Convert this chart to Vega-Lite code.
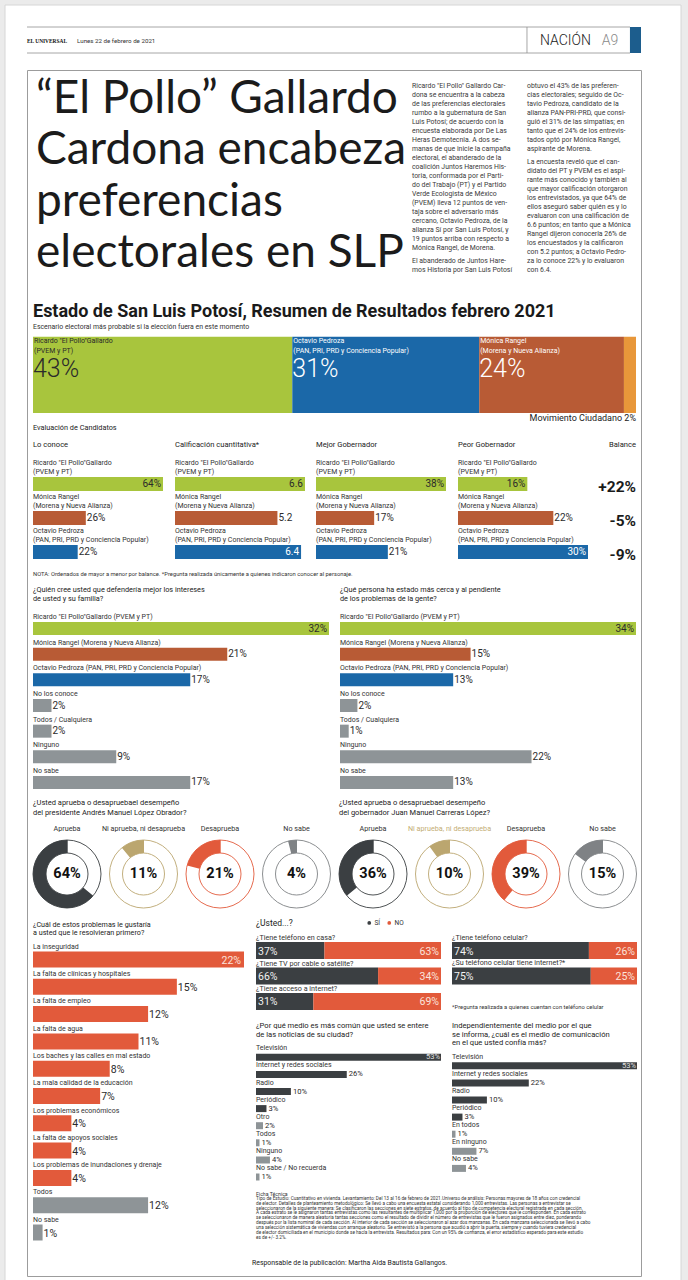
{
"$schema":"https://vega.github.io/schema/vega-lite/v6.json",
"width":688,"height":1280,"autosize":{"type":"none"},"padding":0,"background":"#ebebeb",
"config":{"view":{"stroke":null},"font":"Roboto","text":{"color":"#333333"}},
"resolve":{"scale":{"x":"independent","y":"independent","color":"independent","stroke":"independent","theta":"independent"},"legend":{"color":"independent","stroke":"independent"}},
"datasets":{
"hoja":[{"hoja":"pagina"}],
"lineas_cabecera":[{"linea":"superior"},{"linea":"inferior"}],
"cabecera":[{"elemento":"periodico","texto":"EL UNIVERSAL"},{"elemento":"fecha","texto":"Lunes 22 de febrero de 2021"},{"elemento":"seccion","texto":"NACIÓN"},{"elemento":"pagina","texto":"A9"}],
"marco":[{"marco":"recuadro"}],
"titular":[{"renglon":1,"texto":"“El Pollo” Gallardo"},{"renglon":2,"texto":"Cardona encabeza"},{"renglon":3,"texto":"preferencias"},{"renglon":4,"texto":"electorales en SLP"}],
"nota":[
{"columna":1,"renglon":1,"texto":"Ricardo \"El Pollo\" Gallardo Car-"},
{"columna":1,"renglon":2,"texto":"dona se encuentra a la cabeza"},
{"columna":1,"renglon":3,"texto":"de las preferencias electorales"},
{"columna":1,"renglon":4,"texto":"rumbo a la gubernatura de San"},
{"columna":1,"renglon":5,"texto":"Luis Potosí; de acuerdo con la"},
{"columna":1,"renglon":6,"texto":"encuesta elaborada por De Las"},
{"columna":1,"renglon":7,"texto":"Heras Demotecnia. A dos se-"},
{"columna":1,"renglon":8,"texto":"manas de que inicie la campaña"},
{"columna":1,"renglon":9,"texto":"electoral, el abanderado de la"},
{"columna":1,"renglon":10,"texto":"coalición Juntos Haremos His-"},
{"columna":1,"renglon":11,"texto":"toria, conformada por el Parti-"},
{"columna":1,"renglon":12,"texto":"do del Trabajo (PT) y el Partido"},
{"columna":1,"renglon":13,"texto":"Verde Ecologista de México"},
{"columna":1,"renglon":14,"texto":"(PVEM) lleva 12 puntos de ven-"},
{"columna":1,"renglon":15,"texto":"taja sobre el adversario más"},
{"columna":1,"renglon":16,"texto":"cercano, Octavio Pedroza, de la"},
{"columna":1,"renglon":17,"texto":"alianza Sí por San Luis Potosí, y"},
{"columna":1,"renglon":18,"texto":"19 puntos arriba con respecto a"},
{"columna":1,"renglon":19,"texto":"Mónica Rangel, de Morena."},
{"columna":1,"renglon":20.5,"texto":"   El abanderado de Juntos Hare-"},
{"columna":1,"renglon":21.5,"texto":"mos Historia por San Luis Potosí"},
{"columna":2,"renglon":1,"texto":"obtuvo el 43% de las preferen-"},
{"columna":2,"renglon":2,"texto":"cias electorales; seguido de Oc-"},
{"columna":2,"renglon":3,"texto":"tavio Pedroza, candidato de la"},
{"columna":2,"renglon":4,"texto":"alianza PAN-PRI-PRD, que consi-"},
{"columna":2,"renglon":5,"texto":"guió el 31% de las simpatías; en"},
{"columna":2,"renglon":6,"texto":"tanto que el 24% de los entrevis-"},
{"columna":2,"renglon":7,"texto":"tados optó por Mónica Rangel,"},
{"columna":2,"renglon":8,"texto":"aspirante de Morena."},
{"columna":2,"renglon":9.5,"texto":"   La encuesta reveló que el can-"},
{"columna":2,"renglon":10.5,"texto":"didato del PT y PVEM es el aspi-"},
{"columna":2,"renglon":11.5,"texto":"rante más conocido y también al"},
{"columna":2,"renglon":12.5,"texto":"que mayor calificación otorgaron"},
{"columna":2,"renglon":13.5,"texto":"los entrevistados, ya que 64% de"},
{"columna":2,"renglon":14.5,"texto":"ellos aseguró saber quién es y lo"},
{"columna":2,"renglon":15.5,"texto":"evaluaron con una calificación de"},
{"columna":2,"renglon":16.5,"texto":"6.6 puntos; en tanto que a Mónica"},
{"columna":2,"renglon":17.5,"texto":"Rangel dijeron conocerla 26% de"},
{"columna":2,"renglon":18.5,"texto":"los encuestados y la calificaron"},
{"columna":2,"renglon":19.5,"texto":"con 5.2 puntos; a Octavio Pedro-"},
{"columna":2,"renglon":20.5,"texto":"za lo conoce 22% y lo evaluaron"},
{"columna":2,"renglon":21.5,"texto":"con 6.4."}
],
"titulos":[{"nivel":"titulo","texto":"Estado de San Luis Potosí, Resumen de Resultados febrero 2021"},{"nivel":"subtitulo","texto":"Escenario electoral más probable si la elección fuera en este momento"}],
"preferencia":[
{"orden":1,"candidato":"Ricardo \"El Pollo\"Gallardo","alianza":"(PVEM y PT)","pct":43},
{"orden":2,"candidato":"Octavio Pedroza","alianza":"(PAN, PRI, PRD y Conciencia Popular)","pct":31},
{"orden":3,"candidato":"Mónica Rangel","alianza":"(Morena y Nueva Alianza)","pct":24},
{"orden":4,"candidato":"Movimiento Ciudadano","alianza":"","pct":2}],
"evaluacion":[
{"indicador":"Lo conoce","clave":"ricardo","candidato":"Ricardo \"El Pollo\"Gallardo","alianza":"(PVEM y PT)","valor":64},
{"indicador":"Lo conoce","clave":"monica","candidato":"Mónica Rangel","alianza":"(Morena y Nueva Alianza)","valor":26},
{"indicador":"Lo conoce","clave":"octavio","candidato":"Octavio Pedroza","alianza":"(PAN, PRI, PRD y Conciencia Popular)","valor":22},
{"indicador":"Calificación cuantitativa*","clave":"ricardo","candidato":"Ricardo \"El Pollo\"Gallardo","alianza":"(PVEM y PT)","valor":6.6},
{"indicador":"Calificación cuantitativa*","clave":"monica","candidato":"Mónica Rangel","alianza":"(Morena y Nueva Alianza)","valor":5.2},
{"indicador":"Calificación cuantitativa*","clave":"octavio","candidato":"Octavio Pedroza","alianza":"(PAN, PRI, PRD y Conciencia Popular)","valor":6.4},
{"indicador":"Mejor Gobernador","clave":"ricardo","candidato":"Ricardo \"El Pollo\"Gallardo","alianza":"(PVEM y PT)","valor":38},
{"indicador":"Mejor Gobernador","clave":"monica","candidato":"Mónica Rangel","alianza":"(Morena y Nueva Alianza)","valor":17},
{"indicador":"Mejor Gobernador","clave":"octavio","candidato":"Octavio Pedroza","alianza":"(PAN, PRI, PRD y Conciencia Popular)","valor":21},
{"indicador":"Peor Gobernador","clave":"ricardo","candidato":"Ricardo \"El Pollo\"Gallardo","alianza":"(PVEM y PT)","valor":16},
{"indicador":"Peor Gobernador","clave":"monica","candidato":"Mónica Rangel","alianza":"(Morena y Nueva Alianza)","valor":22},
{"indicador":"Peor Gobernador","clave":"octavio","candidato":"Octavio Pedroza","alianza":"(PAN, PRI, PRD y Conciencia Popular)","valor":30},
{"indicador":"Balance","clave":"ricardo","candidato":"Ricardo \"El Pollo\"Gallardo","alianza":"(PVEM y PT)","valor":22},
{"indicador":"Balance","clave":"monica","candidato":"Mónica Rangel","alianza":"(Morena y Nueva Alianza)","valor":-5},
{"indicador":"Balance","clave":"octavio","candidato":"Octavio Pedroza","alianza":"(PAN, PRI, PRD y Conciencia Popular)","valor":-9}],
"defensa":[
{"pregunta":"intereses","clave":"ricardo","opcion":"Ricardo \"El Pollo\"Gallardo (PVEM y PT)","valor":32},
{"pregunta":"intereses","clave":"monica","opcion":"Mónica Rangel (Morena y Nueva Alianza)","valor":21},
{"pregunta":"intereses","clave":"octavio","opcion":"Octavio Pedroza (PAN, PRI, PRD y Conciencia Popular)","valor":17},
{"pregunta":"intereses","clave":"no_conoce","opcion":"No los conoce","valor":2},
{"pregunta":"intereses","clave":"todos","opcion":"Todos / Cualquiera","valor":2},
{"pregunta":"intereses","clave":"ninguno","opcion":"Ninguno","valor":9},
{"pregunta":"intereses","clave":"no_sabe","opcion":"No sabe","valor":17},
{"pregunta":"cercania","clave":"ricardo","opcion":"Ricardo \"El Pollo\"Gallardo (PVEM y PT)","valor":34},
{"pregunta":"cercania","clave":"monica","opcion":"Mónica Rangel (Morena y Nueva Alianza)","valor":15},
{"pregunta":"cercania","clave":"octavio","opcion":"Octavio Pedroza (PAN, PRI, PRD y Conciencia Popular)","valor":13},
{"pregunta":"cercania","clave":"no_conoce","opcion":"No los conoce","valor":2},
{"pregunta":"cercania","clave":"todos","opcion":"Todos / Cualquiera","valor":1},
{"pregunta":"cercania","clave":"ninguno","opcion":"Ninguno","valor":22},
{"pregunta":"cercania","clave":"no_sabe","opcion":"No sabe","valor":13}],
"aprobacion":[
{"funcionario":"presidente","respuesta":"Aprueba","valor":64},
{"funcionario":"presidente","respuesta":"Ni aprueba, ni desaprueba","valor":11},
{"funcionario":"presidente","respuesta":"Desaprueba","valor":21},
{"funcionario":"presidente","respuesta":"No sabe","valor":4},
{"funcionario":"gobernador","respuesta":"Aprueba","valor":36},
{"funcionario":"gobernador","respuesta":"Ni aprueba, ni desaprueba","valor":10},
{"funcionario":"gobernador","respuesta":"Desaprueba","valor":39},
{"funcionario":"gobernador","respuesta":"No sabe","valor":15}],
"problemas":[
{"problema":"La inseguridad","valor":22},
{"problema":"La falta de clínicas y hospitales","valor":15},
{"problema":"La falta de empleo","valor":12},
{"problema":"La falta de agua","valor":11},
{"problema":"Los baches y las calles en mal estado","valor":8},
{"problema":"La mala calidad de la educación","valor":7},
{"problema":"Los problemas económicos","valor":4},
{"problema":"La falta de apoyos sociales","valor":4},
{"problema":"Los problemas de inundaciones y drenaje","valor":4},
{"problema":"Todos","valor":12},
{"problema":"No sabe","valor":1}],
"servicios":[
{"columna":"izquierda","pregunta":"¿Tiene teléfono en casa?","respuesta":"Sí","valor":37},
{"columna":"izquierda","pregunta":"¿Tiene teléfono en casa?","respuesta":"No","valor":63},
{"columna":"izquierda","pregunta":"¿Tiene TV por cable o satélite?","respuesta":"Sí","valor":66},
{"columna":"izquierda","pregunta":"¿Tiene TV por cable o satélite?","respuesta":"No","valor":34},
{"columna":"izquierda","pregunta":"¿Tiene acceso a internet?","respuesta":"Sí","valor":31},
{"columna":"izquierda","pregunta":"¿Tiene acceso a internet?","respuesta":"No","valor":69},
{"columna":"derecha","pregunta":"¿Tiene teléfono celular?","respuesta":"Sí","valor":74},
{"columna":"derecha","pregunta":"¿Tiene teléfono celular?","respuesta":"No","valor":26},
{"columna":"derecha","pregunta":"¿Su teléfono celular tiene internet?*","respuesta":"Sí","valor":75},
{"columna":"derecha","pregunta":"¿Su teléfono celular tiene internet?*","respuesta":"No","valor":25}],
"medios":[
{"pregunta":"enterarse","medio":"Televisión","valor":53},
{"pregunta":"enterarse","medio":"Internet y redes sociales","valor":26},
{"pregunta":"enterarse","medio":"Radio","valor":10},
{"pregunta":"enterarse","medio":"Periódico","valor":3},
{"pregunta":"enterarse","medio":"Otro","valor":2},
{"pregunta":"enterarse","medio":"Todos","valor":1},
{"pregunta":"enterarse","medio":"Ninguno","valor":4},
{"pregunta":"enterarse","medio":"No sabe / No recuerda","valor":1},
{"pregunta":"confianza","medio":"Televisión","valor":53},
{"pregunta":"confianza","medio":"Internet y redes sociales","valor":22},
{"pregunta":"confianza","medio":"Radio","valor":10},
{"pregunta":"confianza","medio":"Periódico","valor":3},
{"pregunta":"confianza","medio":"En todos","valor":1},
{"pregunta":"confianza","medio":"En ninguno","valor":7},
{"pregunta":"confianza","medio":"No sabe","valor":4}],
"ficha":[
{"tipo":"titulo","renglon":0,"texto":"Ficha Técnica"},
{"tipo":"texto","renglon":1,"texto":"Tipo de Estudio: Cuantitativo en vivienda. Levantamiento: Del 13 al 16 de febrero de 2021.Universo de análisis: Personas mayores de 18 años con credencial"},
{"tipo":"texto","renglon":2,"texto":"de elector. Detalles de planteamiento metodológico: Se llevó a cabo una encuesta estatal considerando 1,000 entrevistas. Las personas a entrevistar se"},
{"tipo":"texto","renglon":3,"texto":"seleccionaron de la siguiente manera: Se clasificaron las secciones en siete estratos, de acuerdo al tipo de competencia electoral registrada en cada sección."},
{"tipo":"texto","renglon":4,"texto":"A cada estrato se le asignaron tantas entrevistas como las resultantes de multiplicar 1,000 por la proporción de electores que le corresponden. En cada estrato"},
{"tipo":"texto","renglon":5,"texto":"se seleccionaron de manera aleatoria tantas secciones como el resultado de dividir el número de entrevistas que le fueron asignados entre diez, ponderando"},
{"tipo":"texto","renglon":6,"texto":"después por la lista nominal de cada sección. Al interior de cada sección se seleccionaron al azar dos manzanas. En cada manzana seleccionada se llevó a cabo"},
{"tipo":"texto","renglon":7,"texto":"una selección sistemática de viviendas con arranque aleatorio. Se entrevistó a la persona que acudió a abrir la puerta, siempre y cuando tuviera credencial"},
{"tipo":"texto","renglon":8,"texto":"de elector domiciliada en el municipio donde se hacía la entrevista. Resultados para: Con un 95% de confianza, el error estadístico esperado para este estudio"},
{"tipo":"texto","renglon":9,"texto":"es de +/- 3.2%."},
{"tipo":"responsable","renglon":14.3,"texto":"Responsable de la publicación: Martha Aida Bautista Gallangos."}]
},
"layer":[
{"data":{"name":"hoja"},"mark":{"type":"rect","fill":"#ffffff","stroke":"#d6d6d6","strokeWidth":1},
 "encoding":{"x":{"datum":0,"type":"quantitative","scale":{"domain":[0,1],"range":[5,681],"nice":false,"zero":false},"axis":null},"x2":{"datum":1},
 "y":{"datum":0,"type":"quantitative","scale":{"domain":[0,1],"range":[5,1290],"nice":false,"zero":false},"axis":null},"y2":{"datum":1}}},
{"data":{"name":"lineas_cabecera"},"mark":{"type":"rule","color":"#8f8f8f","strokeWidth":0.8},
 "encoding":{"y":{"field":"linea","type":"nominal","scale":{"type":"point","domain":["superior","inferior"],"range":[27,53],"padding":0},"axis":null},
 "x":{"datum":0,"type":"quantitative","scale":{"domain":[0,1],"range":[27,630],"nice":false,"zero":false},"axis":null},"x2":{"datum":1}}},
{"data":{"name":"cabecera"},
 "encoding":{"y":{"datum":0.53,"type":"quantitative","scale":{"domain":[0,1],"range":[27,53],"nice":false,"zero":false},"axis":null}},
 "layer":[
 {"transform":[{"filter":"datum.elemento == 'seccion'"}],"mark":{"type":"rule","color":"#8f8f8f","strokeWidth":0.8},
  "encoding":{"x":{"datum":0.8143,"type":"quantitative","scale":{"domain":[0,1],"range":[27,641],"nice":false,"zero":false},"axis":null},"y":{"datum":0},"y2":{"datum":1}}},
 {"transform":[{"filter":"datum.elemento == 'pagina'"}],"mark":{"type":"rect","color":"#1c5d8d"},
  "encoding":{"x":{"datum":0.982,"type":"quantitative"},"x2":{"datum":1},"y":{"datum":0},"y2":{"datum":1}}},
 {"transform":[{"filter":"datum.elemento == 'periodico'"}],"mark":{"type":"text","align":"left","baseline":"middle","font":"Liberation Serif","fontWeight":"bold","fontSize":5.4,"color":"#111111"},
  "encoding":{"x":{"datum":0,"type":"quantitative"},"text":{"field":"texto"}}},
 {"transform":[{"filter":"datum.elemento == 'fecha'"}],"mark":{"type":"text","align":"left","baseline":"middle","fontSize":6.2,"color":"#333333"},
  "encoding":{"x":{"datum":0.0815,"type":"quantitative"},"text":{"field":"texto"}}},
 {"transform":[{"filter":"datum.elemento == 'seccion'"}],"mark":{"type":"text","align":"left","baseline":"middle","fontSize":14,"fontWeight":300,"color":"#1a1a1a"},
  "encoding":{"x":{"datum":0.8355,"type":"quantitative"},"text":{"field":"texto"}}},
 {"transform":[{"filter":"datum.elemento == 'pagina'"}],"mark":{"type":"text","align":"left","baseline":"middle","fontSize":14,"fontWeight":300,"color":"#8a8a8a"},
  "encoding":{"x":{"datum":0.936,"type":"quantitative"},"text":{"field":"texto"}}}
 ]},
{"data":{"name":"marco"},"mark":{"type":"rect","fill":"transparent","stroke":"#9c9c9c","strokeWidth":1},
 "encoding":{"x":{"datum":0,"type":"quantitative","scale":{"domain":[0,1],"range":[27.5,641.5],"nice":false,"zero":false},"axis":null},"x2":{"datum":1},
 "y":{"datum":0,"type":"quantitative","scale":{"domain":[0,1],"range":[70.5,1276.5],"nice":false,"zero":false},"axis":null},"y2":{"datum":1}}},
{"data":{"name":"titular"},"mark":{"type":"text","align":"left","baseline":"alphabetic","font":"Lato","fontSize":46,"color":"#1b1b1b"},
 "encoding":{"x":{"datum":0,"type":"quantitative","scale":{"domain":[0,1],"range":[36,400],"nice":false,"zero":false},"axis":null},
 "y":{"field":"renglon","type":"quantitative","scale":{"domain":[1,4],"range":[113.3,266.7],"nice":false,"zero":false},"axis":null},
 "text":{"field":"texto"}}},
{"data":{"name":"nota"},"mark":{"type":"text","align":"left","baseline":"middle","fontSize":6.9,"color":"#3a3a3a"},
 "encoding":{"x":{"field":"columna","type":"ordinal","scale":{"type":"point","domain":[1,2],"range":[412,527],"padding":0},"axis":null},
 "y":{"field":"renglon","type":"quantitative","scale":{"domain":[1,21.5],"range":[86,270],"nice":false,"zero":false},"axis":null},
 "text":{"field":"texto"}}},
{"data":{"name":"titulos"},
 "encoding":{"y":{"field":"nivel","type":"nominal","scale":{"type":"point","domain":["titulo","subtitulo"],"range":[317,328.5],"padding":0},"axis":null},
 "x":{"datum":0,"type":"quantitative","scale":{"domain":[0,1],"range":[33,636],"nice":false,"zero":false},"axis":null},"text":{"field":"texto"}},
 "layer":[
 {"transform":[{"filter":"datum.nivel == 'titulo'"}],"mark":{"type":"text","align":"left","baseline":"alphabetic","fontSize":18,"fontWeight":"bold","color":"#1a1a1a"}},
 {"transform":[{"filter":"datum.nivel == 'subtitulo'"}],"mark":{"type":"text","align":"left","baseline":"alphabetic","fontSize":6.9,"color":"#333333"}}
 ]},
{"data":{"name":"preferencia"},
 "transform":[{"stack":"pct","groupby":[],"sort":[{"field":"orden","order":"ascending"}],"as":["p0","p1"]},{"calculate":"datum.pct + '%'","as":"etiqueta"},{"calculate":"datum.candidato + ' ' + datum.pct + '%'","as":"etiqueta_mc"}],
 "layer":[
 {"mark":{"type":"rect"},"encoding":{"x":{"field":"p0","type":"quantitative","scale":{"domain":[0,100],"range":[33,636],"nice":false,"zero":false},"axis":null},"x2":{"field":"p1"},
  "y":{"datum":0,"type":"quantitative","scale":{"domain":[0,1],"range":[336.7,413],"nice":false,"zero":false},"axis":null},"y2":{"datum":1},
  "color":{"field":"orden","type":"nominal","scale":{"domain":[1,2,3,4],"range":["#a8c53d","#1b68a8","#b85b35","#e8973a"]},"legend":null}}},
 {"transform":[{"filter":"datum.orden < 4"}],"mark":{"type":"text","align":"left","baseline":"middle","dx":1,"fontSize":7},
  "encoding":{"x":{"field":"p0","type":"quantitative"},"y":{"datum":0.062},"text":{"field":"candidato"},"color":{"condition":{"test":"datum.orden == 1","value":"#2b2b2b"},"value":"#ffffff"}}},
 {"transform":[{"filter":"datum.orden < 4"}],"mark":{"type":"text","align":"left","baseline":"middle","dx":1,"fontSize":7},
  "encoding":{"x":{"field":"p0","type":"quantitative"},"y":{"datum":0.19},"text":{"field":"alianza"},"color":{"condition":{"test":"datum.orden == 1","value":"#2b2b2b"},"value":"#ffffff"}}},
 {"transform":[{"filter":"datum.orden < 4"}],"mark":{"type":"text","align":"left","baseline":"alphabetic","dx":0,"fontSize":25,"fontWeight":300},
  "encoding":{"x":{"field":"p0","type":"quantitative"},"y":{"datum":0.53},"text":{"field":"etiqueta"},"color":{"condition":{"test":"datum.orden == 1","value":"#2b2b2b"},"value":"#ffffff"}}},
 {"transform":[{"filter":"datum.orden == 4"}],"mark":{"type":"text","align":"right","baseline":"middle","fontSize":9,"color":"#222222"},
  "encoding":{"x":{"field":"p1","type":"quantitative"},"y":{"datum":1.066},"text":{"field":"etiqueta_mc"}}}
 ]},
{"data":{"name":"evaluacion"},
 "transform":[{"filter":"datum.indicador == 'Lo conoce'"},{"calculate":"datum.valor + '%'","as":"etiqueta"}],
 "encoding":{"y":{"field":"clave","type":"nominal","scale":{"type":"band","domain":["ricardo","monica","octavio"],"range":[467,569],"paddingInner":0.59,"paddingOuter":0.295},"axis":null}},
 "layer":[
 {"mark":{"type":"bar"},"encoding":{"x":{"field":"valor","type":"quantitative","scale":{"domain":[0,64],"range":[33,163],"nice":false,"zero":true},"axis":null},
  "color":{"field":"clave","type":"nominal","scale":{"domain":["ricardo","monica","octavio"],"range":["#a8c53d","#b85b35","#1b68a8"]},"legend":null}}},
 {"mark":{"type":"text","align":"left","baseline":"middle","dy":-21,"fontSize":7,"color":"#333333"},"encoding":{"x":{"datum":0,"type":"quantitative"},"text":{"field":"candidato"}}},
 {"mark":{"type":"text","align":"left","baseline":"middle","dy":-12,"fontSize":7,"color":"#333333"},"encoding":{"x":{"datum":0,"type":"quantitative"},"text":{"field":"alianza"}}},
 {"transform":[{"filter":"datum.clave == 'ricardo'"}],"mark":{"type":"text","align":"right","baseline":"middle","dx":-2,"fontSize":10,"color":"#2b2b2b"},"encoding":{"x":{"field":"valor","type":"quantitative"},"text":{"field":"etiqueta"}}},
 {"transform":[{"filter":"datum.clave != 'ricardo'"}],"mark":{"type":"text","align":"left","baseline":"middle","dx":1,"fontSize":10,"color":"#2b2b2b"},"encoding":{"x":{"field":"valor","type":"quantitative"},"text":{"field":"etiqueta"}}},
 {"transform":[{"filter":"datum.clave == 'ricardo'"}],"mark":{"type":"text","align":"left","baseline":"middle","dy":-39,"fontSize":7.6,"color":"#222222"},"encoding":{"x":{"datum":0,"type":"quantitative"},"text":{"field":"indicador"}}},
 {"transform":[{"filter":"datum.clave == 'ricardo'"}],"mark":{"type":"text","align":"left","baseline":"middle","dy":-56,"fontSize":7.3,"color":"#222222"},"encoding":{"x":{"datum":0,"type":"quantitative"},"text":{"value":"Evaluación de Candidatos"}}},
 {"transform":[{"filter":"datum.clave == 'octavio'"}],"mark":{"type":"text","align":"left","baseline":"middle","dy":22,"fontSize":5.8,"color":"#333333"},"encoding":{"x":{"datum":0,"type":"quantitative"},"text":{"value":"NOTA: Ordenados de mayor a menor por balance. *Pregunta realizada únicamente a quienes indicaron conocer al personaje."}}}
 ]},
{"data":{"name":"evaluacion"},
 "transform":[{"filter":"datum.indicador == 'Calificación cuantitativa*'"},{"calculate":"format(datum.valor, '.1f')","as":"etiqueta"}],
 "encoding":{"y":{"field":"clave","type":"nominal","scale":{"type":"band","domain":["ricardo","monica","octavio"],"range":[467,569],"paddingInner":0.59,"paddingOuter":0.295},"axis":null}},
 "layer":[
 {"mark":{"type":"bar"},"encoding":{"x":{"field":"valor","type":"quantitative","scale":{"domain":[0,6.6],"range":[175,305],"nice":false,"zero":true},"axis":null},
  "color":{"field":"clave","type":"nominal","scale":{"domain":["ricardo","monica","octavio"],"range":["#a8c53d","#b85b35","#1b68a8"]},"legend":null}}},
 {"mark":{"type":"text","align":"left","baseline":"middle","dy":-21,"fontSize":7,"color":"#333333"},"encoding":{"x":{"datum":0,"type":"quantitative"},"text":{"field":"candidato"}}},
 {"mark":{"type":"text","align":"left","baseline":"middle","dy":-12,"fontSize":7,"color":"#333333"},"encoding":{"x":{"datum":0,"type":"quantitative"},"text":{"field":"alianza"}}},
 {"transform":[{"filter":"datum.clave == 'ricardo' || datum.clave == 'octavio'"}],"mark":{"type":"text","align":"right","baseline":"middle","dx":-2,"fontSize":10},"encoding":{"x":{"field":"valor","type":"quantitative"},"text":{"field":"etiqueta"},"color":{"condition":{"test":"datum.clave == 'octavio'","value":"#ffffff"},"value":"#2b2b2b"}}},
 {"transform":[{"filter":"datum.clave == 'monica'"}],"mark":{"type":"text","align":"left","baseline":"middle","dx":1,"fontSize":10,"color":"#2b2b2b"},"encoding":{"x":{"field":"valor","type":"quantitative"},"text":{"field":"etiqueta"}}},
 {"transform":[{"filter":"datum.clave == 'ricardo'"}],"mark":{"type":"text","align":"left","baseline":"middle","dy":-39,"fontSize":7.6,"color":"#222222"},"encoding":{"x":{"datum":0,"type":"quantitative"},"text":{"field":"indicador"}}}
 ]},
{"data":{"name":"evaluacion"},
 "transform":[{"filter":"datum.indicador == 'Mejor Gobernador'"},{"calculate":"datum.valor + '%'","as":"etiqueta"}],
 "encoding":{"y":{"field":"clave","type":"nominal","scale":{"type":"band","domain":["ricardo","monica","octavio"],"range":[467,569],"paddingInner":0.59,"paddingOuter":0.295},"axis":null}},
 "layer":[
 {"mark":{"type":"bar"},"encoding":{"x":{"field":"valor","type":"quantitative","scale":{"domain":[0,38],"range":[316,446],"nice":false,"zero":true},"axis":null},
  "color":{"field":"clave","type":"nominal","scale":{"domain":["ricardo","monica","octavio"],"range":["#a8c53d","#b85b35","#1b68a8"]},"legend":null}}},
 {"mark":{"type":"text","align":"left","baseline":"middle","dy":-21,"fontSize":7,"color":"#333333"},"encoding":{"x":{"datum":0,"type":"quantitative"},"text":{"field":"candidato"}}},
 {"mark":{"type":"text","align":"left","baseline":"middle","dy":-12,"fontSize":7,"color":"#333333"},"encoding":{"x":{"datum":0,"type":"quantitative"},"text":{"field":"alianza"}}},
 {"transform":[{"filter":"datum.clave == 'ricardo'"}],"mark":{"type":"text","align":"right","baseline":"middle","dx":-2,"fontSize":10,"color":"#2b2b2b"},"encoding":{"x":{"field":"valor","type":"quantitative"},"text":{"field":"etiqueta"}}},
 {"transform":[{"filter":"datum.clave != 'ricardo'"}],"mark":{"type":"text","align":"left","baseline":"middle","dx":1,"fontSize":10,"color":"#2b2b2b"},"encoding":{"x":{"field":"valor","type":"quantitative"},"text":{"field":"etiqueta"}}},
 {"transform":[{"filter":"datum.clave == 'ricardo'"}],"mark":{"type":"text","align":"left","baseline":"middle","dy":-39,"fontSize":7.6,"color":"#222222"},"encoding":{"x":{"datum":0,"type":"quantitative"},"text":{"field":"indicador"}}}
 ]},
{"data":{"name":"evaluacion"},
 "transform":[{"filter":"datum.indicador == 'Peor Gobernador'"},{"calculate":"datum.valor + '%'","as":"etiqueta"}],
 "encoding":{"y":{"field":"clave","type":"nominal","scale":{"type":"band","domain":["ricardo","monica","octavio"],"range":[467,569],"paddingInner":0.59,"paddingOuter":0.295},"axis":null}},
 "layer":[
 {"mark":{"type":"bar"},"encoding":{"x":{"field":"valor","type":"quantitative","scale":{"domain":[0,30],"range":[458,588],"nice":false,"zero":true},"axis":null},
  "color":{"field":"clave","type":"nominal","scale":{"domain":["ricardo","monica","octavio"],"range":["#a8c53d","#b85b35","#1b68a8"]},"legend":null}}},
 {"mark":{"type":"text","align":"left","baseline":"middle","dy":-21,"fontSize":7,"color":"#333333"},"encoding":{"x":{"datum":0,"type":"quantitative"},"text":{"field":"candidato"}}},
 {"mark":{"type":"text","align":"left","baseline":"middle","dy":-12,"fontSize":7,"color":"#333333"},"encoding":{"x":{"datum":0,"type":"quantitative"},"text":{"field":"alianza"}}},
 {"transform":[{"filter":"datum.clave == 'ricardo' || datum.clave == 'octavio'"}],"mark":{"type":"text","align":"right","baseline":"middle","dx":-2,"fontSize":10},"encoding":{"x":{"field":"valor","type":"quantitative"},"text":{"field":"etiqueta"},"color":{"condition":{"test":"datum.clave == 'octavio'","value":"#ffffff"},"value":"#2b2b2b"}}},
 {"transform":[{"filter":"datum.clave == 'monica'"}],"mark":{"type":"text","align":"left","baseline":"middle","dx":1,"fontSize":10,"color":"#2b2b2b"},"encoding":{"x":{"field":"valor","type":"quantitative"},"text":{"field":"etiqueta"}}},
 {"transform":[{"filter":"datum.clave == 'ricardo'"}],"mark":{"type":"text","align":"left","baseline":"middle","dy":-39,"fontSize":7.6,"color":"#222222"},"encoding":{"x":{"datum":0,"type":"quantitative"},"text":{"field":"indicador"}}}
 ]},
{"data":{"name":"evaluacion"},
 "transform":[{"filter":"datum.indicador == 'Balance'"},{"calculate":"(datum.valor > 0 ? '+' : '') + datum.valor + '%'","as":"etiqueta"}],
 "encoding":{"y":{"field":"clave","type":"nominal","scale":{"type":"band","domain":["ricardo","monica","octavio"],"range":[467,569],"paddingInner":0.59,"paddingOuter":0.295},"axis":null},
  "x":{"datum":1,"type":"quantitative","scale":{"domain":[0,1],"range":[589,636],"nice":false,"zero":false},"axis":null}},
 "layer":[
 {"mark":{"type":"text","align":"right","baseline":"middle","dy":3,"fontSize":15.5,"fontWeight":"bold","color":"#1a1a1a"},"encoding":{"text":{"field":"etiqueta"}}},
 {"transform":[{"filter":"datum.clave == 'ricardo'"}],"mark":{"type":"text","align":"right","baseline":"middle","dy":-39,"fontSize":7.6,"color":"#222222"},"encoding":{"text":{"field":"indicador"}}}
 ]},
{"data":{"name":"defensa"},
 "transform":[{"filter":"datum.pregunta == 'intereses'"},{"calculate":"datum.valor + '%'","as":"etiqueta"}],
 "encoding":{"y":{"field":"clave","type":"nominal","scale":{"type":"band","domain":["ricardo","monica","octavio","no_conoce","todos","ninguno","no_sabe"],"range":[615.7,795.3],"paddingInner":0.493,"paddingOuter":0.2465},"axis":null}},
 "layer":[
 {"mark":{"type":"bar"},"encoding":{"x":{"field":"valor","type":"quantitative","scale":{"domain":[0,32],"range":[33,329],"nice":false,"zero":true},"axis":null},
  "color":{"field":"clave","type":"nominal","scale":{"domain":["ricardo","monica","octavio","no_conoce","todos","ninguno","no_sabe"],"range":["#a8c53d","#b85b35","#1b68a8","#8e9497","#8e9497","#8e9497","#8e9497"]},"legend":null}}},
 {"mark":{"type":"text","align":"left","baseline":"middle","dy":-11.5,"fontSize":7,"color":"#333333"},"encoding":{"x":{"datum":0,"type":"quantitative"},"text":{"field":"opcion"}}},
 {"transform":[{"filter":"datum.clave == 'ricardo'"}],"mark":{"type":"text","align":"right","baseline":"middle","dx":-2,"fontSize":10,"color":"#2b2b2b"},"encoding":{"x":{"field":"valor","type":"quantitative"},"text":{"field":"etiqueta"}}},
 {"transform":[{"filter":"datum.clave != 'ricardo'"}],"mark":{"type":"text","align":"left","baseline":"middle","dx":1,"fontSize":10,"color":"#2b2b2b"},"encoding":{"x":{"field":"valor","type":"quantitative"},"text":{"field":"etiqueta"}}},
 {"transform":[{"filter":"datum.clave == 'ricardo'"}],"mark":{"type":"text","align":"left","baseline":"alphabetic","dy":-37,"lineHeight":9.2,"fontSize":7.3,"color":"#222222"},"encoding":{"x":{"datum":0,"type":"quantitative"},"text":{"value":["¿Quién cree usted que defendería mejor los intereses","de usted y su familia?"]}}}
 ]},
{"data":{"name":"defensa"},
 "transform":[{"filter":"datum.pregunta == 'cercania'"},{"calculate":"datum.valor + '%'","as":"etiqueta"}],
 "encoding":{"y":{"field":"clave","type":"nominal","scale":{"type":"band","domain":["ricardo","monica","octavio","no_conoce","todos","ninguno","no_sabe"],"range":[615.7,795.3],"paddingInner":0.493,"paddingOuter":0.2465},"axis":null}},
 "layer":[
 {"mark":{"type":"bar"},"encoding":{"x":{"field":"valor","type":"quantitative","scale":{"domain":[0,34],"range":[340,636],"nice":false,"zero":true},"axis":null},
  "color":{"field":"clave","type":"nominal","scale":{"domain":["ricardo","monica","octavio","no_conoce","todos","ninguno","no_sabe"],"range":["#a8c53d","#b85b35","#1b68a8","#8e9497","#8e9497","#8e9497","#8e9497"]},"legend":null}}},
 {"mark":{"type":"text","align":"left","baseline":"middle","dy":-11.5,"fontSize":7,"color":"#333333"},"encoding":{"x":{"datum":0,"type":"quantitative"},"text":{"field":"opcion"}}},
 {"transform":[{"filter":"datum.clave == 'ricardo'"}],"mark":{"type":"text","align":"right","baseline":"middle","dx":-2,"fontSize":10,"color":"#2b2b2b"},"encoding":{"x":{"field":"valor","type":"quantitative"},"text":{"field":"etiqueta"}}},
 {"transform":[{"filter":"datum.clave != 'ricardo'"}],"mark":{"type":"text","align":"left","baseline":"middle","dx":1,"fontSize":10,"color":"#2b2b2b"},"encoding":{"x":{"field":"valor","type":"quantitative"},"text":{"field":"etiqueta"}}},
 {"transform":[{"filter":"datum.clave == 'ricardo'"}],"mark":{"type":"text","align":"left","baseline":"alphabetic","dy":-37,"lineHeight":9.2,"fontSize":7.3,"color":"#222222"},"encoding":{"x":{"datum":0,"type":"quantitative"},"text":{"value":["¿Qué persona ha estado más cerca y al pendiente","de los problemas de la gente?"]}}}
 ]},
{"data":{"name":"aprobacion"},
 "transform":[{"calculate":"datum.funcionario + '|' + datum.respuesta","as":"clave"},{"calculate":"datum.valor + '%'","as":"etiqueta"}],
 "encoding":{"x":{"field":"clave","type":"nominal","scale":{"type":"point","domain":["presidente|Aprueba","presidente|Ni aprueba, ni desaprueba","presidente|Desaprueba","presidente|No sabe","gobernador|Aprueba","gobernador|Ni aprueba, ni desaprueba","gobernador|Desaprueba","gobernador|No sabe"],"range":[67,602.5],"padding":0},"axis":null},
  "y":{"datum":0,"type":"quantitative","scale":{"domain":[0,1],"range":[874,900],"nice":false,"zero":false},"axis":null}},
 "layer":[
 {"mark":{"type":"arc","outerRadius":34,"innerRadius":21,"fill":"#ffffff","strokeWidth":0.9},
  "encoding":{"theta":{"datum":0,"type":"quantitative","scale":{"domain":[0,100],"range":[6.283185,0]}},"theta2":{"datum":100},
  "stroke":{"field":"respuesta","type":"nominal","scale":{"domain":["Aprueba","Ni aprueba, ni desaprueba","Desaprueba","No sabe"],"range":["#3b3f42","#bba66f","#e25a3b","#7f8285"]},"legend":null}}},
 {"mark":{"type":"arc","outerRadius":34,"innerRadius":21},
  "encoding":{"theta":{"field":"valor","type":"quantitative","stack":null},"theta2":{"datum":0},
  "color":{"field":"respuesta","type":"nominal","scale":{"domain":["Aprueba","Ni aprueba, ni desaprueba","Desaprueba","No sabe"],"range":["#3b3f42","#bba66f","#e25a3b","#7f8285"]},"legend":null}}},
 {"mark":{"type":"text","baseline":"middle","fontSize":14.5,"fontWeight":"bold","color":"#111111"},"encoding":{"text":{"field":"etiqueta"}}},
 {"mark":{"type":"text","baseline":"middle","dy":-45,"fontSize":7.2},"encoding":{"text":{"field":"respuesta"},"color":{"condition":{"test":"datum.funcionario == 'gobernador' && datum.respuesta == 'Ni aprueba, ni desaprueba'","value":"#c3ad74"},"value":"#333333"}}},
 {"transform":[{"filter":"datum.funcionario == 'presidente' && datum.respuesta == 'Aprueba'"}],"mark":{"type":"text","align":"left","baseline":"alphabetic","dx":-34,"dy":-69.5,"lineHeight":10,"fontSize":7.5,"color":"#222222"},"encoding":{"text":{"value":["¿Usted aprueba o desapruebael desempeño","del presidente Andrés Manuel López Obrador?"]}}},
 {"transform":[{"filter":"datum.funcionario == 'gobernador' && datum.respuesta == 'Aprueba'"}],"mark":{"type":"text","align":"left","baseline":"alphabetic","dx":-34,"dy":-69.5,"lineHeight":10,"fontSize":7.5,"color":"#222222"},"encoding":{"text":{"value":["¿Usted aprueba o desapruebael desempeño","del gobernador Juan Manuel Carreras López?"]}}}
 ]},
{"data":{"name":"problemas"},
 "transform":[{"calculate":"datum.valor + '%'","as":"etiqueta"}],
 "encoding":{"y":{"field":"problema","type":"nominal","scale":{"type":"band","domain":["La inseguridad","La falta de clínicas y hospitales","La falta de empleo","La falta de agua","Los baches y las calles en mal estado","La mala calidad de la educación","Los problemas económicos","La falta de apoyos sociales","Los problemas de inundaciones y drenaje","Todos","No sabe"],"range":[945.85,1246.15],"paddingInner":0.414,"paddingOuter":0.207},"axis":null}},
 "layer":[
 {"mark":{"type":"bar"},"encoding":{"x":{"field":"valor","type":"quantitative","scale":{"domain":[0,22],"range":[33,244],"nice":false,"zero":true},"axis":null},
  "color":{"condition":{"test":"datum.problema == 'Todos' || datum.problema == 'No sabe'","value":"#8e9497"},"value":"#e25a3b"}}},
 {"mark":{"type":"text","align":"left","baseline":"middle","dy":-12.8,"fontSize":7,"color":"#333333"},"encoding":{"x":{"datum":0,"type":"quantitative"},"text":{"field":"problema"}}},
 {"transform":[{"filter":"datum.problema == 'La inseguridad'"}],"mark":{"type":"text","align":"right","baseline":"middle","dx":-3,"dy":1,"fontSize":10.5,"color":"#fbe3dc"},"encoding":{"x":{"field":"valor","type":"quantitative"},"text":{"field":"etiqueta"}}},
 {"transform":[{"filter":"datum.problema != 'La inseguridad'"}],"mark":{"type":"text","align":"left","baseline":"middle","dx":1,"dy":1,"fontSize":10.5,"color":"#2b2b2b"},"encoding":{"x":{"field":"valor","type":"quantitative"},"text":{"field":"etiqueta"}}},
 {"transform":[{"filter":"datum.problema == 'La inseguridad'"}],"mark":{"type":"text","align":"left","baseline":"alphabetic","dy":-33,"lineHeight":8.5,"fontSize":7.2,"color":"#222222"},"encoding":{"x":{"datum":0,"type":"quantitative"},"text":{"value":["¿Cuál de estos problemas le gustaría","a usted que le resolvieran primero?"]}}}
 ]},
{"data":{"name":"servicios"},
 "transform":[{"filter":"datum.columna == 'izquierda'"},{"calculate":"datum.valor + '%'","as":"etiqueta"}],
 "encoding":{"y":{"field":"pregunta","type":"nominal","scale":{"type":"band","domain":["¿Tiene teléfono en casa?","¿Tiene TV por cable o satélite?","¿Tiene acceso a internet?"],"range":[937.75,1014.25],"paddingInner":0.333,"paddingOuter":0.1667},"axis":null}},
 "layer":[
 {"mark":{"type":"bar"},"encoding":{"x":{"field":"valor","type":"quantitative","stack":"zero","scale":{"domain":[0,100],"range":[256,441],"nice":false,"zero":true},"axis":null},
  "color":{"field":"respuesta","type":"nominal","scale":{"domain":["Sí","No"],"range":["#3b3f42","#e25a3b"]},
   "legend":{"orient":"none","legendX":366,"legendY":919.5,"direction":"horizontal","title":null,"symbolType":"circle","symbolSize":14,"symbolStrokeWidth":0,"labelFontSize":6.5,"labelColor":"#333333","labelExpr":"upper(datum.label)","columnPadding":5,"labelOffset":2,"padding":0}},
  "order":{"field":"respuesta","sort":"descending"}}},
 {"transform":[{"filter":"datum.respuesta == 'Sí'"}],"mark":{"type":"text","align":"left","baseline":"middle","dx":2,"dy":1,"fontSize":10.5,"color":"#f2f2f2"},"encoding":{"x":{"datum":0,"type":"quantitative"},"text":{"field":"etiqueta"}}},
 {"transform":[{"filter":"datum.respuesta == 'No'"}],"mark":{"type":"text","align":"right","baseline":"middle","dx":-2,"dy":1,"fontSize":10.5,"color":"#fbe3dc"},"encoding":{"x":{"datum":100,"type":"quantitative"},"text":{"field":"etiqueta"}}},
 {"transform":[{"filter":"datum.respuesta == 'Sí'"}],"mark":{"type":"text","align":"left","baseline":"middle","dy":-12.5,"fontSize":7.2,"color":"#333333"},"encoding":{"x":{"datum":0,"type":"quantitative"},"text":{"field":"pregunta"}}},
 {"transform":[{"filter":"datum.respuesta == 'Sí' && datum.pregunta == '¿Tiene teléfono en casa?'"}],"mark":{"type":"text","align":"left","baseline":"middle","dy":-27.2,"fontSize":8.5,"color":"#222222"},"encoding":{"x":{"datum":0,"type":"quantitative"},"text":{"value":"¿Usted...?"}}}
 ]},
{"data":{"name":"servicios"},
 "transform":[{"filter":"datum.columna == 'derecha'"},{"calculate":"datum.valor + '%'","as":"etiqueta"}],
 "encoding":{"y":{"field":"pregunta","type":"nominal","scale":{"type":"band","domain":["¿Tiene teléfono celular?","¿Su teléfono celular tiene internet?*"],"range":[937.75,988.75],"paddingInner":0.333,"paddingOuter":0.1667},"axis":null}},
 "layer":[
 {"mark":{"type":"bar"},"encoding":{"x":{"field":"valor","type":"quantitative","stack":"zero","scale":{"domain":[0,100],"range":[452,637],"nice":false,"zero":true},"axis":null},
  "color":{"field":"respuesta","type":"nominal","scale":{"domain":["Sí","No"],"range":["#3b3f42","#e25a3b"]},"legend":null},
  "order":{"field":"respuesta","sort":"descending"}}},
 {"transform":[{"filter":"datum.respuesta == 'Sí'"}],"mark":{"type":"text","align":"left","baseline":"middle","dx":2,"dy":1,"fontSize":10.5,"color":"#f2f2f2"},"encoding":{"x":{"datum":0,"type":"quantitative"},"text":{"field":"etiqueta"}}},
 {"transform":[{"filter":"datum.respuesta == 'No'"}],"mark":{"type":"text","align":"right","baseline":"middle","dx":-2,"dy":1,"fontSize":10.5,"color":"#fbe3dc"},"encoding":{"x":{"datum":100,"type":"quantitative"},"text":{"field":"etiqueta"}}},
 {"transform":[{"filter":"datum.respuesta == 'Sí'"}],"mark":{"type":"text","align":"left","baseline":"middle","dy":-12.5,"fontSize":7.2,"color":"#333333"},"encoding":{"x":{"datum":0,"type":"quantitative"},"text":{"field":"pregunta"}}},
 {"transform":[{"filter":"datum.respuesta == 'Sí' && datum.pregunta == '¿Su teléfono celular tiene internet?*'"}],"mark":{"type":"text","align":"left","baseline":"middle","dy":30.7,"fontSize":5.8,"color":"#333333"},"encoding":{"x":{"datum":0,"type":"quantitative"},"text":{"value":"*Pregunta realizada a quienes cuentan con teléfono celular"}}}
 ]},
{"data":{"name":"medios"},
 "transform":[{"filter":"datum.pregunta == 'enterarse'"},{"calculate":"datum.valor + '%'","as":"etiqueta"}],
 "encoding":{"y":{"field":"medio","type":"nominal","scale":{"type":"band","domain":["Televisión","Internet y redes sociales","Radio","Periódico","Otro","Todos","Ninguno","No sabe / No recuerda"],"range":[1048.75,1185.55],"paddingInner":0.591,"paddingOuter":0.2955},"axis":null}},
 "layer":[
 {"mark":{"type":"bar"},"encoding":{"x":{"field":"valor","type":"quantitative","scale":{"domain":[0,53],"range":[256,441],"nice":false,"zero":true},"axis":null},
  "color":{"condition":{"test":"indexof(['Televisión','Internet y redes sociales','Radio','Periódico'], datum.medio) >= 0","value":"#3b3f42"},"value":"#8e9497"}}},
 {"mark":{"type":"text","align":"left","baseline":"middle","dy":-9,"fontSize":7,"color":"#333333"},"encoding":{"x":{"datum":0,"type":"quantitative"},"text":{"field":"medio"}}},
 {"transform":[{"filter":"datum.medio == 'Televisión'"}],"mark":{"type":"text","align":"right","baseline":"middle","dx":-1,"fontSize":7.6,"color":"#e0e0e0"},"encoding":{"x":{"field":"valor","type":"quantitative"},"text":{"field":"etiqueta"}}},
 {"transform":[{"filter":"datum.medio != 'Televisión'"}],"mark":{"type":"text","align":"left","baseline":"middle","dx":2,"fontSize":7.6,"color":"#2b2b2b"},"encoding":{"x":{"field":"valor","type":"quantitative"},"text":{"field":"etiqueta"}}},
 {"transform":[{"filter":"datum.medio == 'Televisión'"}],"mark":{"type":"text","align":"left","baseline":"alphabetic","dy":-29.5,"lineHeight":9,"fontSize":7.6,"color":"#222222"},"encoding":{"x":{"datum":0,"type":"quantitative"},"text":{"value":["¿Por qué medio es más común que usted se entere","de las noticias de su ciudad?"]}}}
 ]},
{"data":{"name":"medios"},
 "transform":[{"filter":"datum.pregunta == 'confianza'"},{"calculate":"datum.valor + '%'","as":"etiqueta"}],
 "encoding":{"y":{"field":"medio","type":"nominal","scale":{"type":"band","domain":["Televisión","Internet y redes sociales","Radio","Periódico","En todos","En ninguno","No sabe"],"range":[1057.25,1176.95],"paddingInner":0.591,"paddingOuter":0.2955},"axis":null}},
 "layer":[
 {"mark":{"type":"bar"},"encoding":{"x":{"field":"valor","type":"quantitative","scale":{"domain":[0,53],"range":[452,637],"nice":false,"zero":true},"axis":null},
  "color":{"condition":{"test":"indexof(['Televisión','Internet y redes sociales','Radio','Periódico'], datum.medio) >= 0","value":"#3b3f42"},"value":"#8e9497"}}},
 {"mark":{"type":"text","align":"left","baseline":"middle","dy":-9,"fontSize":7,"color":"#333333"},"encoding":{"x":{"datum":0,"type":"quantitative"},"text":{"field":"medio"}}},
 {"transform":[{"filter":"datum.medio == 'Televisión'"}],"mark":{"type":"text","align":"right","baseline":"middle","dx":-1,"fontSize":7.6,"color":"#e0e0e0"},"encoding":{"x":{"field":"valor","type":"quantitative"},"text":{"field":"etiqueta"}}},
 {"transform":[{"filter":"datum.medio != 'Televisión'"}],"mark":{"type":"text","align":"left","baseline":"middle","dx":2,"fontSize":7.6,"color":"#2b2b2b"},"encoding":{"x":{"field":"valor","type":"quantitative"},"text":{"field":"etiqueta"}}},
 {"transform":[{"filter":"datum.medio == 'Televisión'"}],"mark":{"type":"text","align":"left","baseline":"alphabetic","dy":-38,"lineHeight":8.85,"fontSize":7.6,"color":"#222222"},"encoding":{"x":{"datum":0,"type":"quantitative"},"text":{"value":["Independientemente del medio por el que","se informa, ¿cuál es el medio de comunicación","en el que usted confía más?"]}}}
 ]},
{"data":{"name":"ficha"},
 "encoding":{"x":{"datum":0,"type":"quantitative","scale":{"domain":[0,1],"range":[256,636],"nice":false,"zero":false},"axis":null},
  "y":{"field":"renglon","type":"quantitative","scale":{"domain":[0,9],"range":[1194,1237.6],"nice":false,"zero":false},"axis":null},"text":{"field":"texto"}},
 "layer":[
 {"transform":[{"filter":"datum.tipo == 'titulo'"}],"mark":{"type":"text","align":"left","baseline":"middle","fontSize":5.2,"color":"#333333"}},
 {"transform":[{"filter":"datum.tipo == 'texto'"}],"mark":{"type":"text","align":"left","baseline":"middle","fontSize":4.7,"color":"#333333"}},
 {"transform":[{"filter":"datum.tipo == 'responsable'"}],"mark":{"type":"text","align":"left","baseline":"middle","dx":-4,"fontSize":6.9,"color":"#222222"}}
 ]}
]
}
